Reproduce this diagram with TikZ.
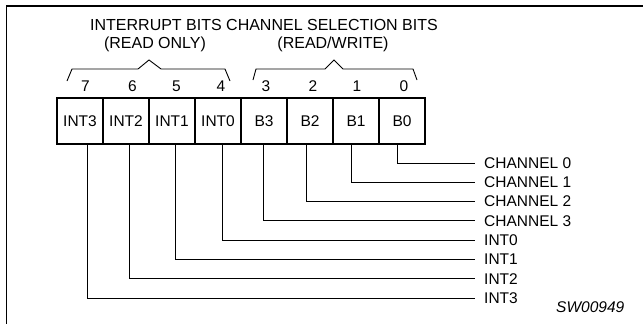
\documentclass[tikz,border=0pt]{standalone}
\usepackage{fontspec}
\setmainfont{Liberation Sans}
\begin{document}
\begin{tikzpicture}[x=1pt,y=-1pt,
  cell/.style={draw, line width=1.7pt, minimum width=46pt, minimum height=46pt, inner sep=0pt, font=\fontsize{15.5}{18}\selectfont},
  bitnum/.style={inner sep=0pt, font=\fontsize{15.5}{18}\selectfont},
  lab/.style={anchor=west, inner sep=0pt, font=\fontsize{15.5}{18}\selectfont},
  title/.style={anchor=base, inner sep=0pt, font=\fontsize{16}{19}\selectfont},
  wire/.style={line width=0.9pt, shorten >=9pt},
  brace/.style={line width=0.9pt, line join=miter}]
\useasboundingbox (0,0) rectangle (643,324);
% frame
\draw[line width=1.8pt] (643,5.6) -- (6.5,5.6) -- (6.5,324);
% titles
\node[title, anchor=base west] (t1) at (90,30.7) {INTERRUPT BITS CHANNEL SELECTION BITS};
\node[title] (t2) at (155,48.7) {(READ ONLY)};
\node[title] (t3) at (333,48.7) {(READ/WRITE)};
% braces
\draw[brace] (67,81) -- (72,69) -- (138,69) -- (149,60) -- (161,69) -- (225,69) -- (230,81);
\draw[brace] (253,80) -- (256,69) -- (325,69) -- (334,60) -- (343,69) -- (413,69) -- (417,80);
% bit numbers
\node[bitnum] (n7) at (85.5,86) {7};
\node[bitnum] (n6) at (132.5,86) {6};
\node[bitnum] (n5) at (176.5,86) {5};
\node[bitnum] (n4) at (221,86) {4};
\node[bitnum] (n3) at (266,86) {3};
\node[bitnum] (n2) at (313,86) {2};
\node[bitnum] (n1) at (357,86) {1};
\node[bitnum] (n0) at (404,86) {0};
% register cells
\node[cell] (c7) at (80,121) {INT3};
\node[cell] (c6) at (126,121) {INT2};
\node[cell] (c5) at (172,121) {INT1};
\node[cell] (c4) at (218,121) {INT0};
\node[cell] (c3) at (264,121) {B3};
\node[cell] (c2) at (310,121) {B2};
\node[cell] (c1) at (356,121) {B1};
\node[cell] (c0) at (402,121) {B0};
% output labels
\node[lab] (l0) at (484,163) {CHANNEL 0};
\node[lab] (l1) at (484,182.3) {CHANNEL 1};
\node[lab] (l2) at (484,201.6) {CHANNEL 2};
\node[lab] (l3) at (484,220.9) {CHANNEL 3};
\node[lab] (l4) at (484,240.2) {INT0};
\node[lab] (l5) at (484,259.5) {INT1};
\node[lab] (l6) at (484,278.8) {INT2};
\node[lab] (l7) at (484,298.1) {INT3};
\node[lab, font=\fontsize{15.5}{18}\selectfont\itshape] (sw) at (556,307) {SW00949};
% wire x positions
\coordinate (x7) at (87,0);
\coordinate (x6) at (129,0);
\coordinate (x5) at (175,0);
\coordinate (x4) at (222,0);
\coordinate (x3) at (263,0);
\coordinate (x2) at (306,0);
\coordinate (x1) at (351,0);
\coordinate (x0) at (397,0);
% wires
\draw[wire] (c0.south -| x0) |- (l0.west);
\draw[wire] (c1.south -| x1) |- (l1.west);
\draw[wire] (c2.south -| x2) |- (l2.west);
\draw[wire] (c3.south -| x3) |- (l3.west);
\draw[wire] (c4.south -| x4) |- (l4.west);
\draw[wire] (c5.south -| x5) |- (l5.west);
\draw[wire] (c6.south -| x6) |- (l6.west);
\draw[wire] (c7.south -| x7) |- (l7.west);
\end{tikzpicture}
\end{document}
